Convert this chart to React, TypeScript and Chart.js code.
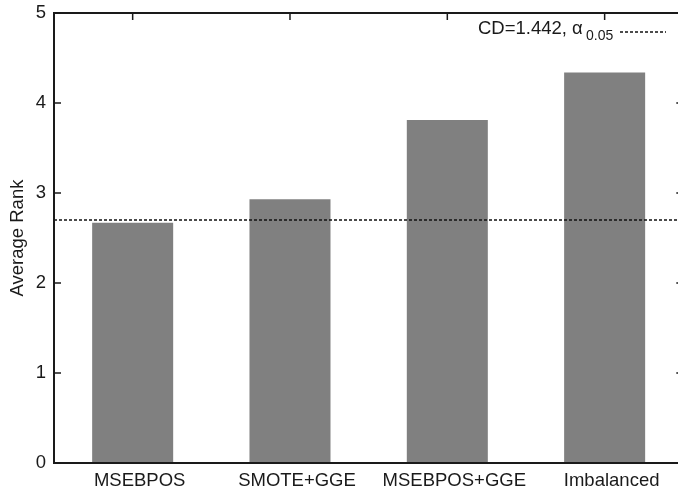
import React, { useEffect, useRef } from "react";
import { Chart, registerables } from "chart.js";

Chart.register(...registerables);

const categories = ["MSEBPOS", "SMOTE+GGE", "MSEBPOS+GGE", "Imbalanced"];
const averageRanks = [2.67, 2.93, 3.81, 4.34];
const yTickValues = [0, 1, 2, 3, 4, 5];
const cdLineValue = 2.7;
const cdLabelMain = "CD=1.442, α";
const cdLabelSub = "0.05";

const FONT = "'Liberation Sans', Arial, Helvetica, sans-serif";
const INK = "#1a1a1a";

const framePlugin = {
  id: "framePlugin",
  afterDatasetsDraw(chart: any) {
    const { ctx, chartArea } = chart;
    const ys = chart.scales.y;
    const xs = chart.scales.x;
    const { left, right, top, bottom } = chartArea;
    ctx.save();
    // CD dashed line
    const yCd = ys.getPixelForValue(cdLineValue);
    ctx.strokeStyle = "#111";
    ctx.lineWidth = 1.5;
    ctx.setLineDash([3, 2]);
    ctx.beginPath();
    ctx.moveTo(left, yCd);
    ctx.lineTo(right, yCd);
    ctx.stroke();
    ctx.setLineDash([]);

    // frame
    ctx.strokeStyle = INK;
    ctx.lineWidth = 2;
    ctx.beginPath();
    ctx.rect(left, top, right - left, bottom - top);
    ctx.stroke();

    // inward ticks
    ctx.lineWidth = 1.5;
    ctx.beginPath();
    yTickValues.forEach((v) => {
      const py = ys.getPixelForValue(v);
      ctx.moveTo(left, py);
      ctx.lineTo(left + 7, py);
      ctx.moveTo(right, py);
      ctx.lineTo(right - 7, py);
    });
    categories.forEach((_, i) => {
      const px = xs.getPixelForValue(i);
      ctx.moveTo(px, top);
      ctx.lineTo(px, top + 7);
    });
    ctx.stroke();

    // legend
    ctx.fillStyle = INK;
    ctx.textBaseline = "alphabetic";
    ctx.textAlign = "left";
    ctx.font = `18.5px ${FONT}`;
    const wMain = ctx.measureText(cdLabelMain).width;
    const startX = 478;
    ctx.fillText(cdLabelMain, startX, 33.5);
    ctx.font = `14px ${FONT}`;
    ctx.fillText(cdLabelSub, Math.max(startX + wMain + 1, 586), 39.5);
    ctx.strokeStyle = "#111";
    ctx.lineWidth = 1.5;
    ctx.setLineDash([3, 2]);
    ctx.beginPath();
    ctx.moveTo(620, 32);
    ctx.lineTo(666, 32);
    ctx.stroke();
    ctx.restore();
  },
};

export default function App() {
  const canvasRef = useRef<HTMLCanvasElement | null>(null);

  useEffect(() => {
    const canvas = canvasRef.current;
    if (!canvas) return;
    const chart = new Chart(canvas, {
      type: "bar",
      data: {
        labels: categories,
        datasets: [
          {
            data: averageRanks,
            backgroundColor: "#808080",
            borderWidth: 0,
            barPercentage: 0.515,
            categoryPercentage: 1,
          },
        ],
      },
      options: {
        responsive: false,
        animation: false,
        devicePixelRatio: 1,
        layout: { padding: { left: 0, top: 13, right: 16.7, bottom: 0 } },
        plugins: {
          legend: { display: false },
          tooltip: { enabled: false },
          title: { display: false },
        },
        scales: {
          x: {
            type: "category",
            offset: true,
            grid: { display: false, drawTicks: false },
            border: { display: false },
            ticks: {
              color: INK,
              font: { family: FONT, size: 18.5 },
              padding: 7,
              labelOffset: 7,
              maxRotation: 0,
              autoSkip: false,
            },
            afterFit(scale: any) {
              scale.height = 30;
              scale.paddingLeft = 0;
              scale.paddingRight = 0;
            },
          },
          y: {
            min: 0,
            max: 5,
            grid: { display: false, drawTicks: false },
            border: { display: false },
            ticks: {
              stepSize: 1,
              color: INK,
              font: { family: FONT, size: 18.5 },
              padding: 8,
            },
            title: {
              display: true,
              text: "Average Rank",
              color: INK,
              font: { family: FONT, size: 18.5 },
              padding: { top: 7, bottom: 0 },
            },
            afterFit(scale: any) {
              scale.width = 54;
              scale.paddingTop = 0;
              scale.paddingBottom = 0;
            },
          },
        },
      },
      plugins: [framePlugin],
    });
    return () => chart.destroy();
  }, []);

  return (
    <div
      style={{
        position: "fixed",
        left: 0,
        top: 0,
        width: 678,
        height: 493,
        overflow: "hidden",
        background: "#fff",
      }}
    >
      <canvas ref={canvasRef} width={700} height={493} style={{ display: "block" }} />
    </div>
  );
}
